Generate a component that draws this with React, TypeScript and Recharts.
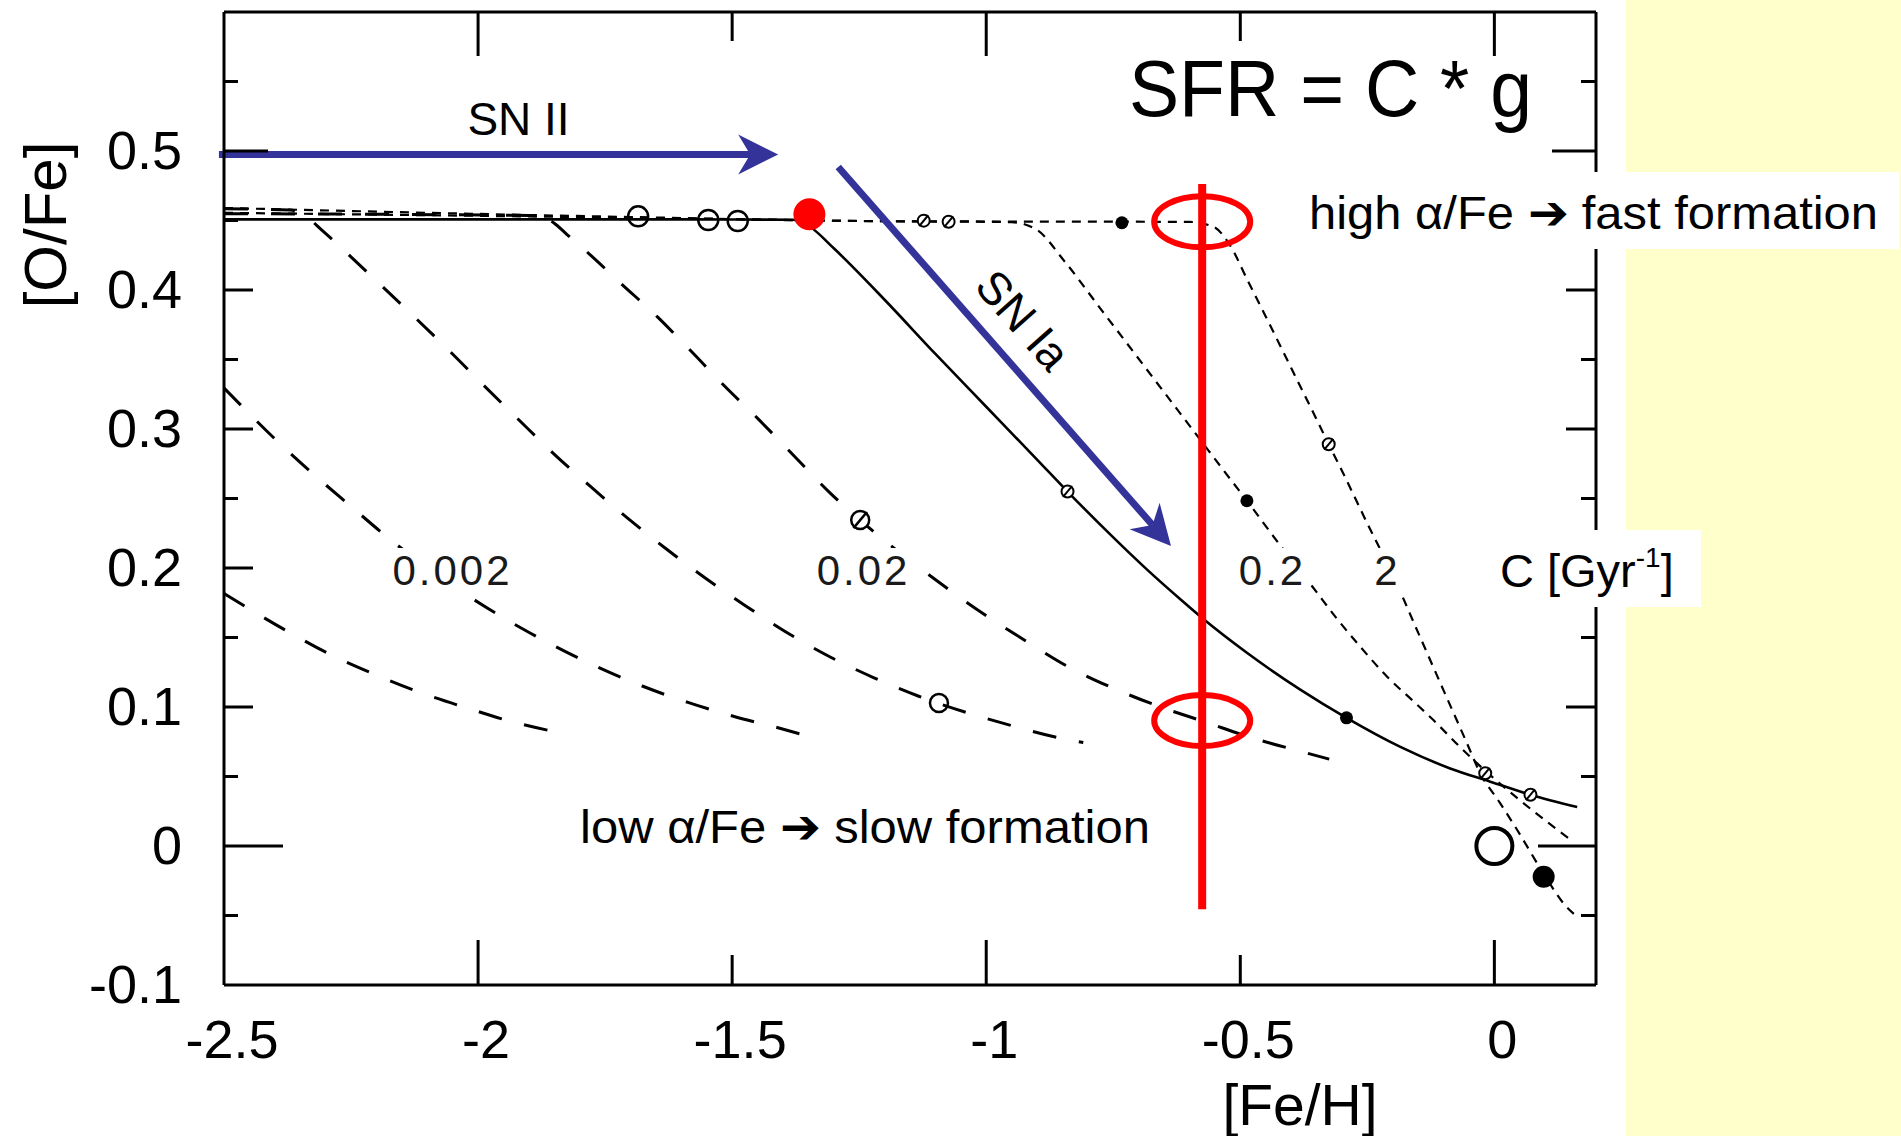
import React from 'react';
import {
  ComposedChart, Line, Scatter, XAxis, YAxis, ReferenceLine, ReferenceDot,
} from 'recharts';

const FONT = "'Liberation Sans', Arial, Helvetica, sans-serif";
const BLUE = '#333399';
const RED = '#ff0000';

// axes
const xDomain = [-2.5, 0.2];
const yDomain = [-0.1, 0.6];
const xTicks = [-2.5, -2, -1.5, -1, -0.5, 0];
const yTicks = [-0.1, -0.05, 0, 0.05, 0.1, 0.15, 0.2, 0.25, 0.3, 0.35, 0.4, 0.45, 0.5, 0.55];
const curveLabels = ['0.002', '0.02', '0.2', '2'];

// model tracks: x = [Fe/H], y = [O/Fe]
const slowCurveB = [
  { x: -2.5, y: 0.1817 }, { x: -2.374, y: 0.1542 }, { x: -2.291, y: 0.1378 }, { x: -2.203, y: 0.1234 },
  { x: -2.112, y: 0.1102 }, { x: -2.022, y: 0.0993 }, { x: -1.926, y: 0.0887 }, { x: -1.833, y: 0.081 },
];
const slowCurveA = [
  { x: -2.5, y: 0.3295 }, { x: -2.397, y: 0.2919 }, { x: -2.327, y: 0.2685 }, { x: -2.251, y: 0.2446 },
  { x: -2.177, y: 0.2217 }, { x: -1.982, y: 0.1712 }, { x: -1.896, y: 0.1529 }, { x: -1.766, y: 0.1289 },
  { x: -1.677, y: 0.1151 }, { x: -1.587, y: 0.1033 }, { x: -1.496, y: 0.0932 }, { x: -1.401, y: 0.0842 },
  { x: -1.325, y: 0.0763 },
];
const kneeCurve1 = [
  { x: -2.5, y: 0.4585 }, { x: -2.37, y: 0.4575 }, { x: -2.335, y: 0.452 }, { x: -2.308, y: 0.4433 },
  { x: -2.195, y: 0.4048 }, { x: -2.127, y: 0.3812 }, { x: -2.0575, y: 0.3566 }, { x: -1.99, y: 0.3318 },
  { x: -1.922, y: 0.3074 }, { x: -1.852, y: 0.2825 }, { x: -1.78, y: 0.259 }, { x: -1.707, y: 0.2363 },
  { x: -1.632, y: 0.2144 }, { x: -1.553, y: 0.1928 }, { x: -1.474, y: 0.1729 }, { x: -1.395, y: 0.1542 },
  { x: -1.307, y: 0.136 }, { x: -1.222, y: 0.1212 }, { x: -1.134, y: 0.1079 }, { x: -0.952, y: 0.0868 },
  { x: -0.856, y: 0.0777 }, { x: -0.809, y: 0.0744 },
];
const kneeCurve2 = [
  { x: -2.5, y: 0.4549 }, { x: -1.88, y: 0.4535 }, { x: -1.85, y: 0.448 }, { x: -1.825, y: 0.4399 },
  { x: -1.789, y: 0.4285 }, { x: -1.7185, y: 0.4046 }, { x: -1.646, y: 0.3803 }, { x: -1.581, y: 0.3561 },
  { x: -1.516, y: 0.3313 }, { x: -1.444, y: 0.3055 }, { x: -1.378, y: 0.2806 }, { x: -1.307, y: 0.2539 },
  { x: -1.248, y: 0.2345 }, { x: -1.081, y: 0.1865 }, { x: -1.002, y: 0.1662 }, { x: -0.92, y: 0.147 },
  { x: -0.839, y: 0.129 }, { x: -0.748, y: 0.1132 }, { x: -0.659, y: 0.1003 }, { x: -0.569, y: 0.0892 },
  { x: -0.474, y: 0.0775 }, { x: -0.384, y: 0.0683 }, { x: -0.325, y: 0.0625 },
];
const solidModel = [
  { x: -2.5, y: 0.4508 }, { x: -1.6, y: 0.4508 }, { x: -1.38, y: 0.4505 }, { x: -1.347, y: 0.4455 },
  { x: -1.3, y: 0.43 }, { x: -1.2, y: 0.393 }, { x: -1.1, y: 0.354 }, { x: -1.0, y: 0.316 },
  { x: -0.9, y: 0.278 }, { x: -0.84, y: 0.255 }, { x: -0.75, y: 0.222 }, { x: -0.684, y: 0.199 },
  { x: -0.618, y: 0.1775 }, { x: -0.575, y: 0.164 }, { x: -0.487, y: 0.139 }, { x: -0.382, y: 0.1125 },
  { x: -0.291, y: 0.0922 }, { x: -0.185, y: 0.0713 }, { x: -0.087, y: 0.0558 }, { x: -0.008, y: 0.0463 },
  { x: 0.071, y: 0.0369 }, { x: 0.163, y: 0.028 },
];
const fastCurve1 = [
  { x: -2.5, y: 0.4555 }, { x: -1.7, y: 0.452 }, { x: -1.2, y: 0.4495 }, { x: -0.95, y: 0.4488 },
  { x: -0.9, y: 0.4432 }, { x: -0.848, y: 0.4216 }, { x: -0.776, y: 0.387 }, { x: -0.711, y: 0.3558 },
  { x: -0.644, y: 0.3236 }, { x: -0.579, y: 0.2924 }, { x: -0.533, y: 0.2703 }, { x: -0.487, y: 0.2484 },
  { x: -0.425, y: 0.218 }, { x: -0.356, y: 0.1856 }, { x: -0.31, y: 0.1636 }, { x: -0.264, y: 0.1434 },
  { x: -0.211, y: 0.1218 }, { x: -0.159, y: 0.104 }, { x: -0.12, y: 0.0906 }, { x: -0.067, y: 0.071 },
  { x: -0.028, y: 0.0575 }, { x: 0.057, y: 0.0309 }, { x: 0.116, y: 0.0139 }, { x: 0.15, y: 0.0045 },
];
const fastCurve2 = [
  { x: -2.5, y: 0.459 }, { x: -1.7, y: 0.4525 }, { x: -1.2, y: 0.4495 }, { x: -0.6, y: 0.449 },
  { x: -0.553, y: 0.4455 }, { x: -0.52, y: 0.432 }, { x: -0.487, y: 0.408 }, { x: -0.45, y: 0.381 },
  { x: -0.4, y: 0.344 }, { x: -0.35, y: 0.307 }, { x: -0.326, y: 0.289 }, { x: -0.3, y: 0.27 },
  { x: -0.25, y: 0.232 }, { x: -0.2, y: 0.195 }, { x: -0.15, y: 0.1535 }, { x: -0.1, y: 0.112 },
  { x: -0.054, y: 0.074 }, { x: -0.028, y: 0.0525 }, { x: 0.011, y: 0.031 }, { x: 0.045, y: 0.0115 },
  { x: 0.097, y: -0.02 }, { x: 0.14, y: -0.043 }, { x: 0.16, y: -0.05 },
];

// markers
const plateauCircles = [{ x: -1.685, y: 0.453 }, { x: -1.547, y: 0.4504 }, { x: -1.489, y: 0.4496 }];
const smallOpenMarks = [
  { x: -1.123, y: 0.4499 }, { x: -1.074, y: 0.4491 }, { x: -0.84, y: 0.255 },
  { x: -0.326, y: 0.289 }, { x: 0.071, y: 0.0369 }, { x: -0.018, y: 0.0523 },
];
const midOpenMarks = [{ x: -1.093, y: 0.1029 }];
const midSlashMarks = [{ x: -1.248, y: 0.2345 }];
const smallFilledMarks = [{ x: -0.733, y: 0.4484 }, { x: -0.487, y: 0.2484 }, { x: -0.291, y: 0.0922 }];
const sunMark = [{ x: 0, y: 0 }];
const bigFilledMark = [{ x: 0.097, y: -0.0221 }];
const kneePoint = [{ x: -1.348, y: 0.4545 }];

// annotations
const snIIArrow = [{ x: -2.51, y: 0.4975 }, { x: -1.4094, y: 0.4975 }];
const snIaArrow = [{ x: -1.2913, y: 0.4885 }, { x: -0.6364, y: 0.2158 }];
const cutLine = [{ x: -0.575, y: 0.4763 }, { x: -0.575, y: -0.0455 }];
const rings = [{ x: -0.575, y: 0.4491 }, { x: -0.575, y: 0.0902 }];

const isTenth = (v: number) => Math.abs(v * 10 - Math.round(v * 10)) < 1e-6;
const near = (a: number, b: number) => Math.abs(a - b) < 1e-6;
const fmt = (v: number) => String(Math.round(v * 100) / 100);

const LeftTick = (p: any) => {
  const { x, y, payload } = p;
  const v = payload.value;
  const len = near(v, 0) ? 59 : near(v, 0.5) ? 44 : isTenth(v) ? 29 : 14;
  return (
    <g>
      {!near(v, -0.1) && <line x1={x} x2={x + len} y1={y} y2={y} stroke="#000" strokeWidth={3} />}
      {isTenth(v) && (
        <text x={x - 42} y={y + 18} textAnchor="end" fontSize={54} fontFamily={FONT} fill="#000">{fmt(v)}</text>
      )}
    </g>
  );
};

const RightTick = (p: any) => {
  const { x, y, payload } = p;
  const v = payload.value;
  if (near(v, -0.1)) return <g />;
  const len = near(v, 0) ? 58 : near(v, 0.5) ? 44 : isTenth(v) ? 30 : 15;
  return <line x1={x} x2={x - len} y1={y} y2={y} stroke="#000" strokeWidth={3} />;
};

const BottomTick = (p: any) => {
  const { x, y, payload } = p;
  const v = payload.value;
  const len = near(v, -2.5) ? 0 : Number.isInteger(v) ? 45 : 30;
  return (
    <g>
      {len > 0 && <line x1={x} x2={x} y1={y} y2={y - len} stroke="#000" strokeWidth={3} />}
      <text x={x + 8} y={y + 73} textAnchor="middle" fontSize={54} fontFamily={FONT} fill="#000">{fmt(v)}</text>
    </g>
  );
};

const TopTick = (p: any) => {
  const { x, y, payload } = p;
  const v = payload.value;
  if (near(v, -2.5)) return <g />;
  const len = Number.isInteger(v) ? 44 : 29;
  return <line x1={x} x2={x} y1={y} y2={y + len} stroke="#000" strokeWidth={3} />;
};

const arrowShape = (p: any) => {
  const { x1, y1, x2, y2 } = p;
  const dx = x2 - x1;
  const dy = y2 - y1;
  const d = Math.hypot(dx, dy);
  const ux = dx / d;
  const uy = dy / d;
  const nx = -uy;
  const ny = ux;
  const L = 40, W = 20, N = 12;
  const bx = x2 - ux * L, by = y2 - uy * L;
  const mx = x2 - ux * (L - N), my = y2 - uy * (L - N);
  return (
    <g>
      <line x1={x1} y1={y1} x2={mx} y2={my} stroke={BLUE} strokeWidth={7} />
      <polygon
        points={`${x2},${y2} ${bx + nx * W},${by + ny * W} ${mx},${my} ${bx - nx * W},${by - ny * W}`}
        fill={BLUE}
      />
    </g>
  );
};

const ringShape = (p: any) => (
  <ellipse cx={p.cx} cy={p.cy} rx={48} ry={25.5} fill="none" stroke={RED} strokeWidth={6} />
);

const openCircle = (r: number, sw: number) => (p: any) => (
  <circle cx={p.cx} cy={p.cy} r={r} fill="none" stroke="#000" strokeWidth={sw} />
);
const slashCircle = (r: number, sw: number) => (p: any) => (
  <g>
    <circle cx={p.cx} cy={p.cy} r={r} fill="#fff" stroke="#000" strokeWidth={sw} />
    <line x1={p.cx - r * 0.75} y1={p.cy + r * 0.9} x2={p.cx + r * 0.75} y2={p.cy - r * 0.9} stroke="#000" strokeWidth={sw} />
  </g>
);
const filledCircle = (r: number, color: string) => (p: any) => (
  <circle cx={p.cx} cy={p.cy} r={r} fill={color} />
);

const axisLine = { stroke: '#000', strokeWidth: 3 };

const curveLabelBoxes = [
  { cx: 451, w: 136 }, { cx: 862, w: 106 }, { cx: 1271, w: 78 }, { cx: 1386, w: 38 },
];

export default function App() {
  return (
    <div style={{ position: 'absolute', left: 0, top: 0, width: 1901, height: 1136, background: '#fff', overflow: 'hidden' }}>
      <div style={{ position: 'absolute', left: 1626, top: 0, width: 275, height: 1136, background: '#ffffcc' }} />
      <div style={{ position: 'absolute', left: 0, top: 0 }}>
        <ComposedChart width={1901} height={1136} margin={{ top: 2, right: 245, bottom: 91, left: 164 }}>
          <XAxis
            dataKey="x" type="number" domain={xDomain} ticks={xTicks} interval={0} allowDataOverflow
            tickSize={0} tickMargin={0} tickLine={false} height={60} axisLine={axisLine} tick={BottomTick}
          />
          <XAxis
            xAxisId="top" orientation="top" dataKey="x" type="number" domain={xDomain} ticks={xTicks}
            interval={0} allowDataOverflow tickSize={0} tickMargin={0} tickLine={false} height={10}
            axisLine={axisLine} tick={TopTick}
          />
          <YAxis
            dataKey="y" type="number" domain={yDomain} ticks={yTicks} interval={0} allowDataOverflow
            tickSize={0} tickMargin={0} tickLine={false} width={60} axisLine={axisLine} tick={LeftTick}
          />
          <YAxis
            yAxisId="right" orientation="right" dataKey="y" type="number" domain={yDomain} ticks={yTicks}
            interval={0} allowDataOverflow tickSize={0} tickMargin={0} tickLine={false} width={60}
            axisLine={axisLine} tick={RightTick}
          />

          <Line data={slowCurveB} dataKey="y" type="monotone" stroke="#000" strokeWidth={3} strokeDasharray="24 23" dot={false} activeDot={false} isAnimationActive={false} />
          <Line data={slowCurveA} dataKey="y" type="monotone" stroke="#000" strokeWidth={3} strokeDasharray="24 23" dot={false} activeDot={false} isAnimationActive={false} />
          <Line data={kneeCurve1} dataKey="y" type="monotone" stroke="#000" strokeWidth={3} strokeDasharray="24 23" dot={false} activeDot={false} isAnimationActive={false} />
          <Line data={kneeCurve2} dataKey="y" type="monotone" stroke="#000" strokeWidth={3} strokeDasharray="24 23" dot={false} activeDot={false} isAnimationActive={false} />
          <Line data={fastCurve1} dataKey="y" type="monotone" stroke="#000" strokeWidth={2.2} strokeDasharray="9 7" dot={false} activeDot={false} isAnimationActive={false} />
          <Line data={fastCurve2} dataKey="y" type="monotone" stroke="#000" strokeWidth={2.2} strokeDasharray="9 7" dot={false} activeDot={false} isAnimationActive={false} />
          <Line data={solidModel} dataKey="y" type="monotone" stroke="#000" strokeWidth={2.6} dot={false} activeDot={false} isAnimationActive={false} />

          <Scatter data={plateauCircles} dataKey="y" shape={openCircle(10, 2.5)} isAnimationActive={false} />
          <Scatter data={smallOpenMarks} dataKey="y" shape={slashCircle(6, 2)} isAnimationActive={false} />
          <Scatter data={midOpenMarks} dataKey="y" shape={openCircle(9, 2.5)} isAnimationActive={false} />
          <Scatter data={midSlashMarks} dataKey="y" shape={slashCircle(9, 2.5)} isAnimationActive={false} />
          <Scatter data={smallFilledMarks} dataKey="y" shape={filledCircle(6.5, '#000')} isAnimationActive={false} />
          <Scatter data={sunMark} dataKey="y" shape={openCircle(18, 4)} isAnimationActive={false} />
          <Scatter data={bigFilledMark} dataKey="y" shape={filledCircle(11, '#000')} isAnimationActive={false} />

          {rings.map((r, i) => (
            <ReferenceDot key={i} x={r.x} y={r.y} ifOverflow="visible" shape={ringShape} />
          ))}
          <ReferenceLine segment={cutLine} stroke={RED} strokeWidth={8} ifOverflow="visible" />
          <ReferenceLine segment={snIIArrow} ifOverflow="visible" shape={arrowShape} />
          <ReferenceLine segment={snIaArrow} ifOverflow="visible" shape={arrowShape} />
          <Scatter data={kneePoint} dataKey="y" shape={filledCircle(16, RED)} isAnimationActive={false} />
        </ComposedChart>
      </div>

      <svg width={1901} height={1136} style={{ position: 'absolute', left: 0, top: 0, pointerEvents: 'none' }} fontFamily={FONT}>
        {curveLabels.map((t, i) => (
          <g key={t}>
            <rect x={curveLabelBoxes[i].cx - curveLabelBoxes[i].w / 2} y={548} width={curveLabelBoxes[i].w} height={45} fill="#fff" />
            <text x={curveLabelBoxes[i].cx + 1.5} y={585} textAnchor="middle" fontSize={42} letterSpacing={3} fill="#1a1a1a">{t}</text>
          </g>
        ))}

        <text x={1129} y={116} fontSize={80} textLength={403} lengthAdjust="spacingAndGlyphs" fill="#000">SFR = C * g</text>
        <text x={518.5} y={135} fontSize={46} textAnchor="middle" fill="#000">SN II</text>
        <text x={1023} y={320} fontSize={46} textAnchor="middle" dominantBaseline="central" transform="rotate(48.5 1023 320)" fill="#000">SN Ia</text>

        <rect x={1296} y={172} width={603} height={77} fill="#fff" />
        <text x={1309} y={229} fontSize={47} textLength={569} lengthAdjust="spacingAndGlyphs" fill="#000">high α/Fe ➔ fast formation</text>

        <text x={580} y={843} fontSize={47} textLength={570} lengthAdjust="spacingAndGlyphs" fill="#000">low α/Fe ➔ slow formation</text>

        <rect x={1490} y={530} width={211} height={77} fill="#fff" />
        <text x={1500} y={587} fontSize={47} fill="#000">
          C [Gyr<tspan fontSize={28} dy={-20}>-1</tspan><tspan dy={20}>]</tspan>
        </text>

        <text x={66} y={225} fontSize={60} textAnchor="middle" transform="rotate(-90 66 225)" fill="#000">[O/Fe]</text>
        <text x={1300} y={1125} fontSize={57} textAnchor="middle" fill="#000">[Fe/H]</text>
      </svg>
    </div>
  );
}
